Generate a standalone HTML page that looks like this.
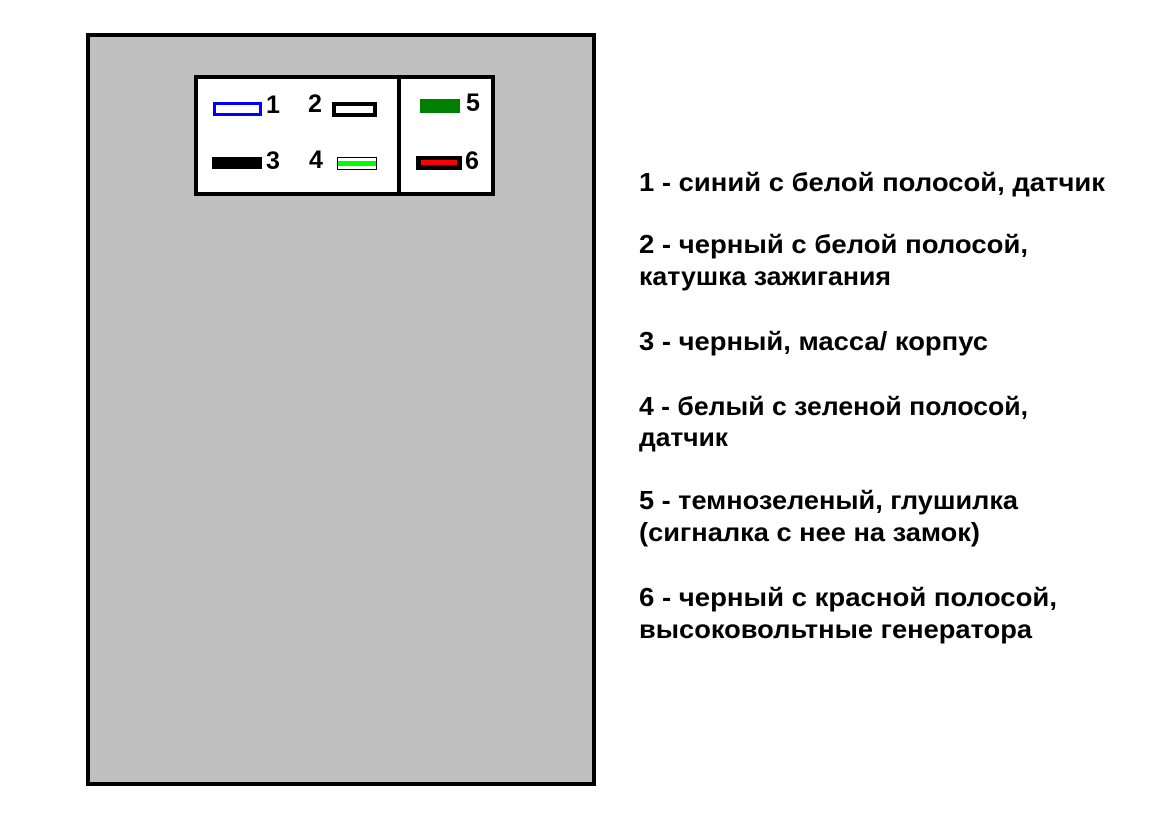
<!DOCTYPE html>
<html><head><meta charset="utf-8"><style>
html,body{margin:0;padding:0;background:#fff;width:1160px;height:817px;overflow:hidden}
</style></head><body>
<svg width="1160" height="817" xmlns="http://www.w3.org/2000/svg" style="display:block">
<rect x="0" y="0" width="1160" height="817" fill="#fff"/>
<rect x="88" y="35" width="506" height="749" fill="#c0c0c0" stroke="#000" stroke-width="4"/>
<rect x="196" y="77" width="297" height="117" fill="#fff" stroke="#000" stroke-width="4"/>
<rect x="397" y="77" width="4" height="117" fill="#000"/>
<!-- slot 1 -->
<rect x="214.5" y="103.5" width="46" height="11" fill="#fff" stroke="#0000ff" stroke-width="3"/>
<!-- slot 2 -->
<rect x="334" y="104" width="41" height="11" fill="#fff" stroke="#000" stroke-width="4"/>
<!-- slot 5 -->
<rect x="420" y="99" width="40" height="14" fill="#008000"/>
<!-- slot 3 -->
<rect x="212" y="157" width="50" height="12" fill="#000"/>
<!-- slot 4 -->
<rect x="337.5" y="157.5" width="39" height="12" fill="#fff" stroke="#000" stroke-width="1"/>
<rect x="338" y="161" width="38" height="5" fill="#00ff00"/>
<!-- slot 6 -->
<rect x="416" y="156" width="46" height="14" fill="#000"/>
<rect x="421" y="160" width="36" height="5" fill="#ff0000"/>
<g font-family="Liberation Sans, sans-serif" font-weight="bold" font-size="25" fill="#000">
<text x="266" y="113">1</text>
<text x="308" y="112">2</text>
<text x="466" y="111">5</text>
<text x="266" y="169">3</text>
<text x="309" y="168">4</text>
<text x="465" y="169">6</text>
</g>
<g font-family="Liberation Sans, sans-serif" font-weight="bold" font-size="26" fill="#000" lengthAdjust="spacingAndGlyphs">
<text x="639" y="191" textLength="466" lengthAdjust="spacingAndGlyphs">1 - синий с белой полосой, датчик</text>
<text x="639" y="253" textLength="389" lengthAdjust="spacingAndGlyphs">2 - черный с белой полосой,</text>
<text x="639" y="285" textLength="252" lengthAdjust="spacingAndGlyphs">катушка зажигания</text>
<text x="639" y="350" textLength="349" lengthAdjust="spacingAndGlyphs">3 - черный, масса/ корпус</text>
<text x="639" y="415" textLength="389" lengthAdjust="spacingAndGlyphs">4 - белый с зеленой полосой,</text>
<text x="639" y="446" textLength="89" lengthAdjust="spacingAndGlyphs">датчик</text>
<text x="639" y="509" textLength="379" lengthAdjust="spacingAndGlyphs">5 - темнозеленый, глушилка</text>
<text x="639" y="541" textLength="341" lengthAdjust="spacingAndGlyphs">(сигналка с нее на замок)</text>
<text x="639" y="606" textLength="418" lengthAdjust="spacingAndGlyphs">6 - черный с красной полосой,</text>
<text x="639" y="638" textLength="393" lengthAdjust="spacingAndGlyphs">высоковольтные генератора</text>
</g>
</svg>
</body></html>
